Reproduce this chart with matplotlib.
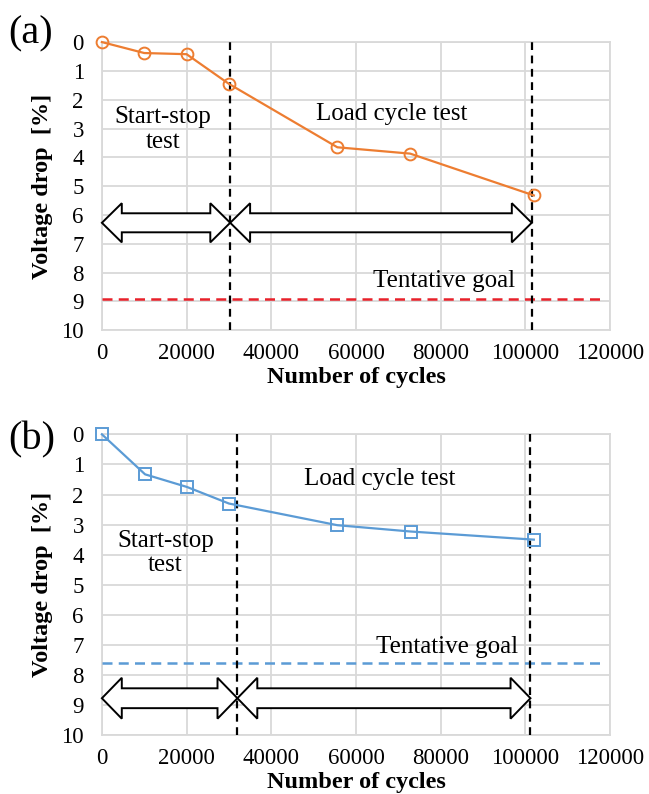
import matplotlib
matplotlib.use("Agg")
import matplotlib.pyplot as plt
from matplotlib.patches import Polygon

plt.rcParams['font.family'] = ['Liberation Serif', 'DejaVu Serif']

# durability data: cycles vs. voltage drop
cycles_a = [0, 10000, 20000, 30000, 55600, 72800, 102000]
drop_a = [0.0, 0.38, 0.42, 1.45, 3.65, 3.87, 5.32]
cycles_b = [0, 10200, 20100, 30000, 55600, 72900, 102000]
drop_b = [0.0, 1.33, 1.75, 2.3, 3.02, 3.23, 3.5]

goal_a = 8.9
goal_b = 7.6
phase_a = [30300, 101500]   # end of start-stop test / end of load cycle test
phase_b = [32000, 101200]
arrow_y_a = 6.27
arrow_y_b = 8.77

xticks = [0, 20000, 40000, 60000, 80000, 100000, 120000]
yticks = list(range(0, 11))


def block_arrow(ax, x0, x1, yc, hh, sh, hl=4700):
    pts = [(x0, yc), (x0 + hl, yc - hh), (x0 + hl, yc - sh), (x1 - hl, yc - sh),
           (x1 - hl, yc - hh), (x1, yc), (x1 - hl, yc + hh), (x1 - hl, yc + sh),
           (x0 + hl, yc + sh), (x0 + hl, yc + hh)]
    ax.add_patch(Polygon(pts, closed=True, facecolor='white', edgecolor='black',
                         linewidth=1.4, clip_on=False, zorder=5))


def panel(ax, x, y, color, marker, goal, goal_color, phases, arrow_y, txt_pos, tag, tag_y):
    ax.set_xlim(0, 120000)
    ax.set_ylim(10, 0)
    ax.set_xticks(xticks)
    ax.set_yticks(yticks)
    ax.tick_params(length=0, labelsize=16.5)
    ax.tick_params(axis='y', pad=13)
    ax.tick_params(axis='x', pad=9)
    ax.grid(True, color='#d9d9d9', linewidth=1.3)
    ax.set_axisbelow(True)
    for s in ax.spines.values():
        s.set_color('#d9d9d9')
        s.set_linewidth(1.3)

    ax.plot(x, y, color=color, linewidth=1.6, marker=marker, markersize=8.5,
            markerfacecolor='none', markeredgewidth=1.4, clip_on=False, zorder=6)
    ax.plot([0, 118000], [goal, goal], color=goal_color, linestyle=(0, (4, 2.5)),
            linewidth=1.8, zorder=3)
    for p in phases:
        ax.axvline(p, color='black', linestyle=(0, (3.5, 2.5)), linewidth=1.6, zorder=4)

    block_arrow(ax, 0, phases[0], arrow_y, 0.68, 0.33)
    block_arrow(ax, phases[0], phases[1], arrow_y, 0.68, 0.33)

    ax.text(txt_pos[0][0], txt_pos[0][1], "Start-stop\ntest", ha='center', va='center',
            fontsize=18, linespacing=1.15)
    ax.text(txt_pos[1][0], txt_pos[1][1], "Load cycle test", ha='center', va='center', fontsize=18)
    ax.text(txt_pos[2][0], txt_pos[2][1], "Tentative goal", ha='center', va='center', fontsize=18)

    ax.set_xlabel("Number of cycles", fontsize=17.5, fontweight='bold', labelpad=2)
    ax.set_ylabel("Voltage drop  [%]", fontsize=17.5, fontweight='bold', labelpad=6)
    fig.text(0.012, tag_y, tag, fontsize=29, va='center', ha='left')


fig = plt.figure(figsize=(6.49, 7.94), dpi=100)
ax1 = fig.add_axes([0.157, 0.584, 0.783, 0.363])
ax2 = fig.add_axes([0.157, 0.074, 0.783, 0.379])

panel(ax1, cycles_a, drop_a, '#ED7D31', 'o', goal_a, '#E8212A', phase_a, arrow_y_a,
      [(14400, 3.03), (68400, 2.5), (80700, 8.3)], "(a)", 1 - 34 / 794)
panel(ax2, cycles_b, drop_b, '#5B9BD5', 's', goal_b, '#5B9BD5', phase_b, arrow_y_b,
      [(15000, 3.95), (65700, 1.5), (81500, 7.07)], "(b)", 1 - 440 / 794)

fig.savefig("out.png", dpi=100)
